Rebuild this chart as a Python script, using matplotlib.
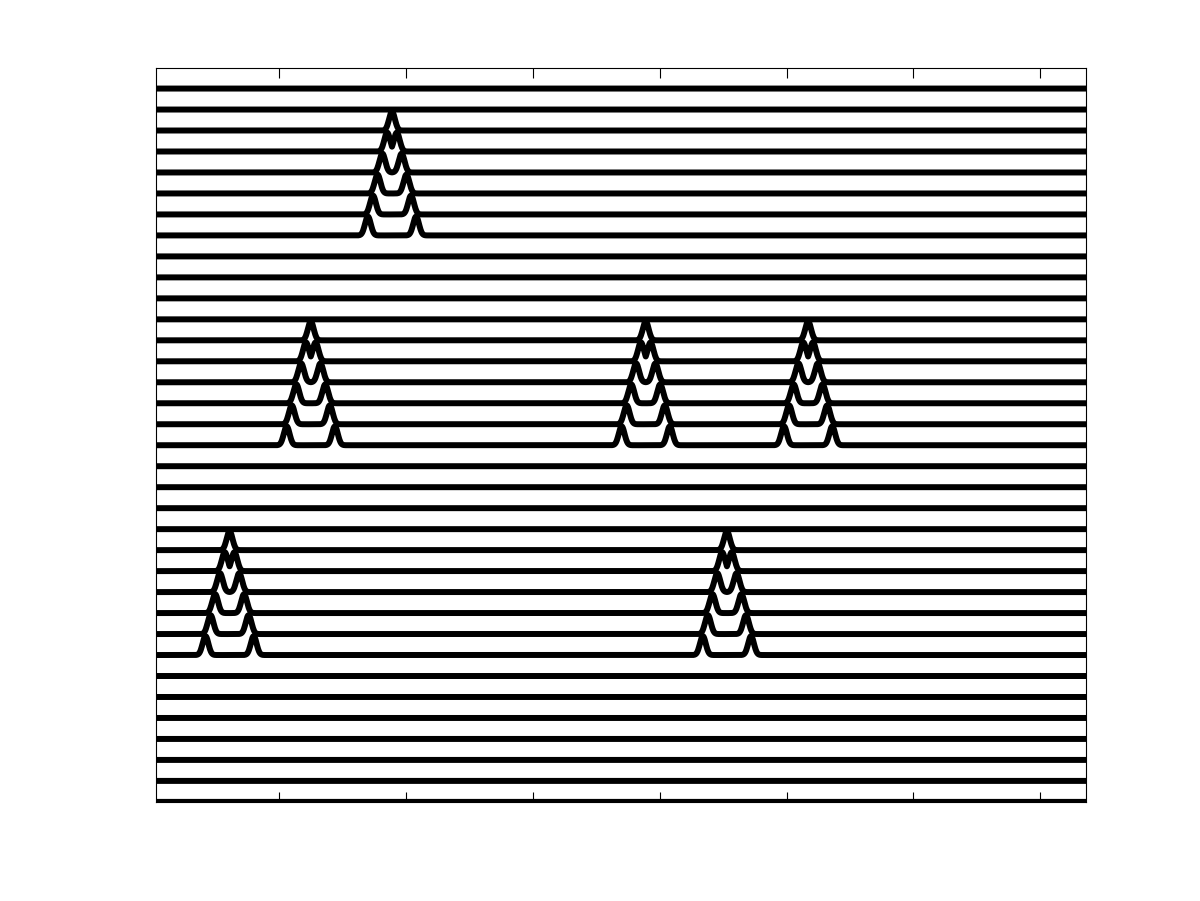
import numpy as np
import matplotlib
matplotlib.use('Agg')
import matplotlib.pyplot as plt

# stacked traces, offset by one unit each
n_traces = 35

# pulse groups: first (lowest) trace index and centre position
group_start = [27, 17, 17, 17, 7, 7]
group_center = [189, 125, 389, 517, 61, 453]

# half distance between the two pulses, going up the group
half_sep = [19, 15, 11.4, 7.6, 3.8, 0]

amp = 0.9
width = 2.3

x = np.arange(3, 736.25, 0.25)

fig = plt.figure(figsize=(12, 9.01), dpi=100)
ax = fig.add_axes([0.13, 0.11, 0.775, 0.815])

traces = [np.zeros_like(x) for _ in range(n_traces)]
for start, c in zip(group_start, group_center):
    for j, d in enumerate(half_sep):
        g1 = amp * np.exp(-(x - (c - d))**2 / (2 * width**2))
        g2 = amp * np.exp(-(x - (c + d))**2 / (2 * width**2))
        traces[start + j] = np.maximum(traces[start + j], np.maximum(g1, g2))

for k in range(n_traces):
    ax.plot(x, traces[k] + k, color='black', linewidth=4.3)

ax.set_xlim(3, 736)
ax.set_ylim(0, 35)
ax.set_xticks([100, 200, 300, 400, 500, 600, 700])
ax.set_xticklabels([])
ax.set_yticks([])
ax.tick_params(axis='x', direction='in', top=True, bottom=True, length=7, width=0.8)
for s in ax.spines.values():
    s.set_linewidth(0.8)

fig.savefig('out.png', dpi=100)
